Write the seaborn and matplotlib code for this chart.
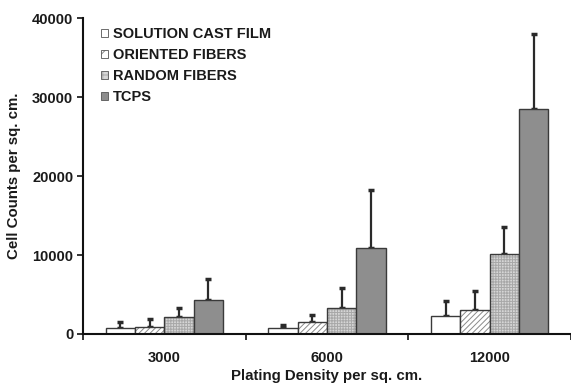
import numpy as np
import pandas as pd
import matplotlib
matplotlib.use("Agg")
import matplotlib.pyplot as plt
from matplotlib.colors import to_rgba
import seaborn as sns

densities = ["3000", "6000", "12000"]
groups = ["SOLUTION CAST FILM", "ORIENTED FIBERS", "RANDOM FIBERS", "TCPS"]

# mean cell counts per group, one value per density
solution_cast = [800, 800, 2250]
oriented = [850, 1480, 3000]
random_fib = [2200, 3250, 10100]
tcps = [4300, 10900, 28500]

# upper error bar ends (mean + sd)
solution_cast_top = [1550, 1180, 4180]
oriented_top = [1860, 2400, 5500]
random_top = [3330, 5780, 13600]
tcps_top = [6900, 18250, 38000]

means = [solution_cast, oriented, random_fib, tcps]
tops = [solution_cast_top, oriented_top, random_top, tcps_top]

rows = []
for g, vals in zip(groups, means):
    for d, v in zip(densities, vals):
        rows.append({"density": d, "group": g, "count": v})
df = pd.DataFrame(rows)

sns.set_style("white")
plt.rcParams["font.family"] = ["Liberation Sans", "DejaVu Sans"]
plt.rcParams["font.weight"] = "bold"
plt.rcParams["hatch.linewidth"] = 0.7

fig = plt.figure(figsize=(5.71, 3.85), dpi=100)
ax = fig.add_axes([0.1454, 0.1325, 0.8546, 0.8205])

palette = {"SOLUTION CAST FILM": "#ffffff", "ORIENTED FIBERS": "#ffffff",
           "RANDOM FIBERS": "#d6d6d6", "TCPS": "#8e8e8e"}
sns.barplot(data=df, x="density", y="count", hue="group", hue_order=groups,
            order=densities, palette=palette, errorbar=None, width=0.72,
            edgecolor="#3a3a3a", linewidth=1.0, ax=ax)

hatches = ["", "//////", "++++++", ""]
hatch_cols = ["#3a3a3a", "#8a8a8a", "#a8a8a8", "#3a3a3a"]


def set_hatch(p, h, c):
    p.set_hatch(h)
    if hasattr(p, "set_hatchcolor"):
        p.set_hatchcolor(c)
    else:
        p._hatch_color = to_rgba(c)


for cont, h, hc, vals, ups in zip(ax.containers, hatches, hatch_cols, means, tops):
    xs = []
    for bar in cont:
        set_hatch(bar, h, hc)
        bar.set_zorder(2)
        xs.append(bar.get_x() + bar.get_width() / 2)
    err = np.array(ups) - np.array(vals)
    ax.errorbar(xs, vals, yerr=[np.zeros_like(err), err], fmt="none",
                ecolor="#2a2a2a", elinewidth=1.6, capsize=2.5, capthick=2.5,
                zorder=1)

ax.set_ylim(0, 40000)
ax.set_xlim(-0.5, 2.5)
ax.set_yticks([0, 10000, 20000, 30000, 40000])
ax.tick_params(axis="y", direction="out", length=4, width=1.2, labelsize=10.5,
               left=True, color="#111111", pad=3)
ax.tick_params(axis="x", which="major", length=0, labelsize=10.5, pad=12)
ax.set_xticks([-0.5, 0.5, 1.5, 2.5], minor=True)
ax.tick_params(axis="x", which="minor", direction="out", length=4, width=1.2,
               bottom=True, color="#111111")
for lab in ax.get_xticklabels() + ax.get_yticklabels():
    lab.set_fontweight("bold")
    lab.set_color("#1a1a1a")

ax.set_xlabel("Plating Density per sq. cm.", fontsize=10.8, fontweight="bold",
              color="#1a1a1a", labelpad=3)
ax.set_ylabel("Cell Counts per sq. cm.", fontsize=10.8, fontweight="bold",
              color="#1a1a1a", labelpad=8)

for s in ["top", "right"]:
    ax.spines[s].set_visible(False)
for s in ["left", "bottom"]:
    ax.spines[s].set_linewidth(1.5)
    ax.spines[s].set_color("#111111")

leg = ax.legend(loc="upper left", bbox_to_anchor=(0.018, 1.0), frameon=False,
                fontsize=10.5, handlelength=0.5, handleheight=0.5,
                handletextpad=0.35, labelspacing=0.48, borderaxespad=0.2)
for t in leg.get_texts():
    t.set_fontweight("bold")
    t.set_color("#1a1a1a")
for hnd, h, hc in zip(leg.legend_handles, hatches, hatch_cols):
    hnd.set_linewidth(0.6)
    hnd.set_edgecolor("#555555")
    set_hatch(hnd, h.replace("//////", "///").replace("++++++", "+++"), hc)

fig.savefig("out.png", dpi=100)
